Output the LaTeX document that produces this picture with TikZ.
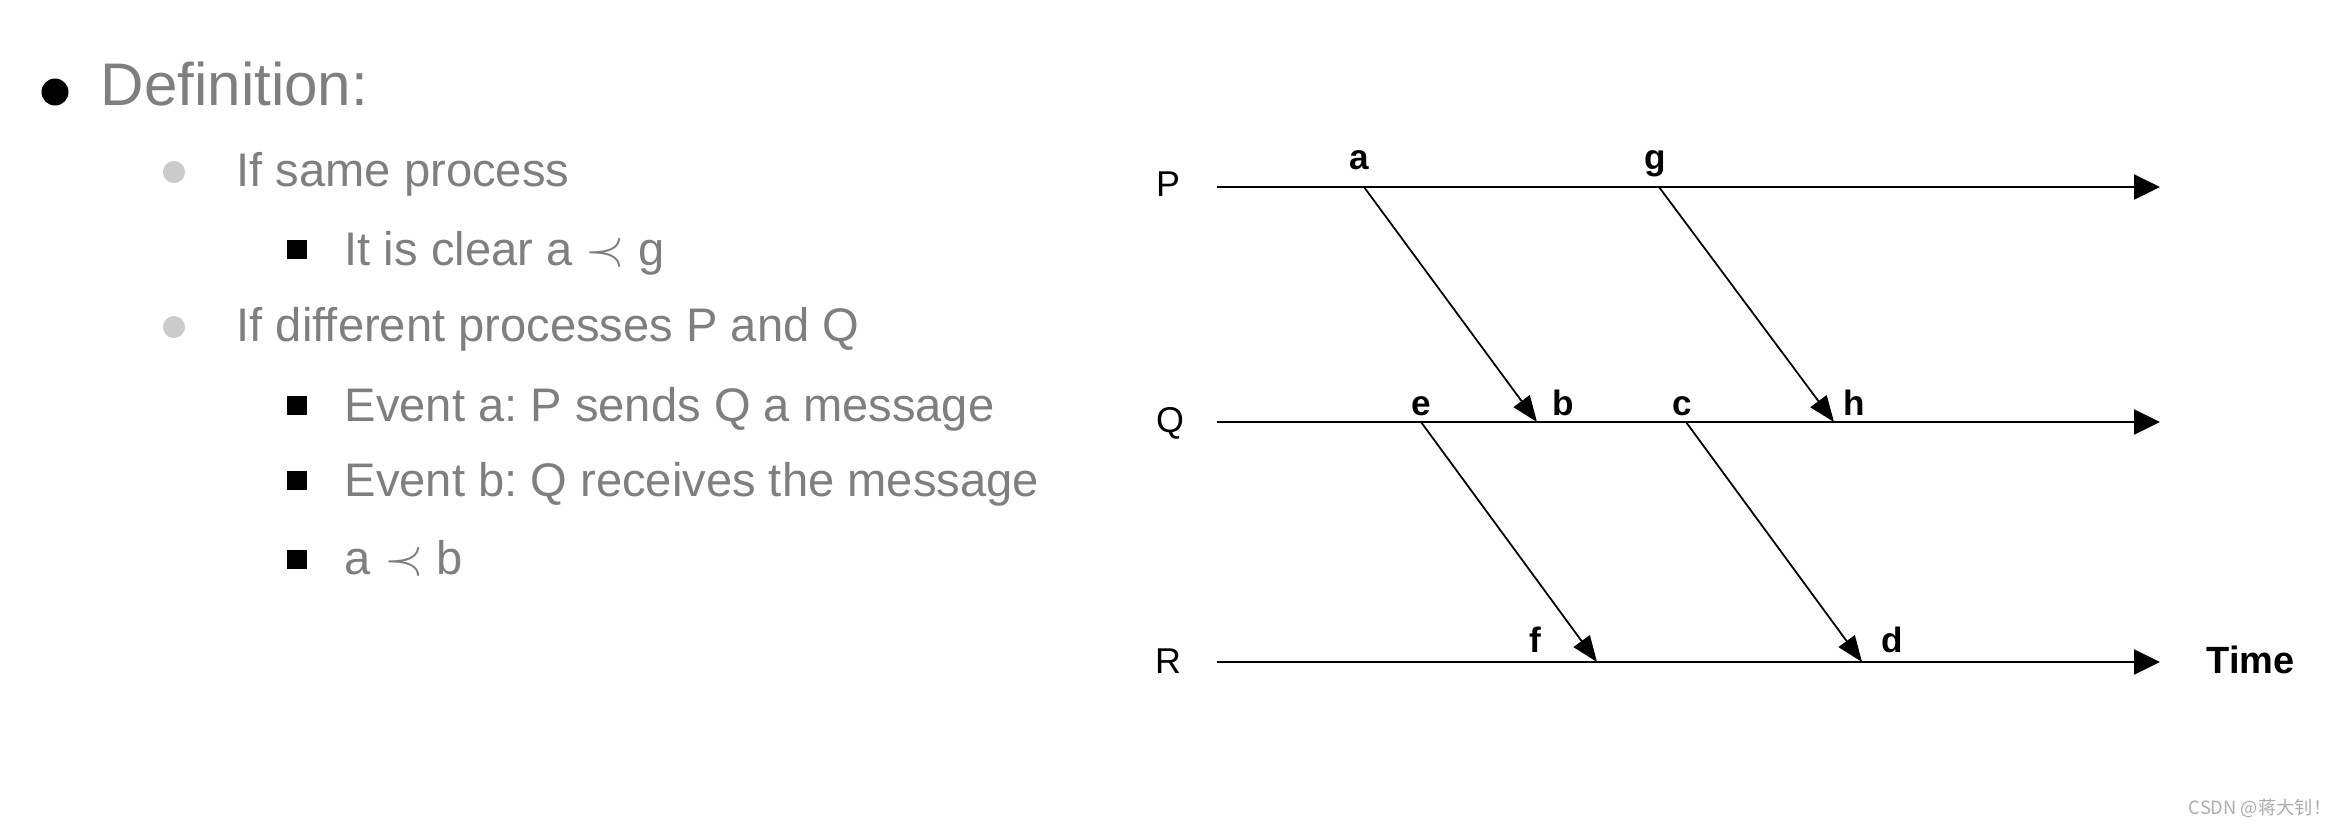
\documentclass[tikz,border=0pt]{standalone}
\usepackage{fontspec}
\setmainfont{Liberation Sans}
\newfontfamily\cjkfont{Noto Sans CJK SC}
\usetikzlibrary{arrows.meta}
\frenchspacing
\definecolor{textgray}{HTML}{7F7F7F}
\definecolor{dotgray}{HTML}{CBCBCB}
\definecolor{markgray}{HTML}{ADADAD}
\tikzset{
  lvlone/.style={anchor=base west, text=textgray, inner sep=0pt, font=\fontsize{17.1}{20}\selectfont},
  lvltwo/.style={anchor=base west, text=textgray, inner sep=0pt, font=\fontsize{13.4}{16}\selectfont},
  graydot/.style={circle, fill=dotgray, minimum size=0.22cm, inner sep=0pt},
  blacksq/.style={rectangle, fill=black, minimum size=0.19cm, inner sep=0pt},
  procline/.style={line width=0.65pt, -{Triangle[length=0.26cm, width=0.25cm]}},
  msgline/.style={line width=0.5pt, -{Triangle[length=0.26cm, width=0.2cm]}},
  proclabel/.style={anchor=base, inner sep=0pt, font=\fontsize{10.2}{12}\selectfont},
  evlabel/.style={anchor=base, inner sep=0pt, font=\bfseries\fontsize{10}{12}\selectfont}
}
\begin{document}
\begin{tikzpicture}[x=0.01cm, y=-0.01cm]
  \useasboundingbox (0,0) rectangle (2332,826);
  \fill[white] (0,0) rectangle (2332,826);
  % Bullet list
  \node[circle, fill=black, minimum size=0.27cm, inner sep=0pt] (dot0) at (55,92) {};
  \node[lvlone] (defn) at (100,105) {Definition:};
  \node[graydot] (dot1) at (174,172) {};
  \node[lvltwo] (same) at (236,186) {If same process};
  \node[blacksq] (sq1) at (297,249) {};
  \node[lvltwo] (clear) at (344,265) {It is clear a $\prec$ g};
  \node[graydot] (dot2) at (174,327) {};
  \node[lvltwo] (diff) at (236,341) {If different processes P and Q};
  \node[blacksq] (sq2) at (297,405) {};
  \node[lvltwo] (send) at (344,421) {Event a: P sends Q a message};
  \node[blacksq] (sq3) at (297,480) {};
  \node[lvltwo] (recv) at (344,496) {Event b: Q receives the message};
  \node[blacksq] (sq4) at (297,559) {};
  \node[lvltwo] (prec) at (344,574) {a $\prec$ b};
  % Processes
  \node[proclabel] (P) at (1168,196) {P};
  \node[proclabel] (Q) at (1170,432) {Q};
  \node[proclabel] (R) at (1168,673) {R};
  \coordinate (Ps) at (1217,187); \coordinate (Pe) at (2160,187);
  \coordinate (Qs) at (1217,422); \coordinate (Qe) at (2160,422);
  \coordinate (Rs) at (1217,662); \coordinate (Re) at (2160,662);
  \draw[procline] (Ps) -- (Pe);
  \draw[procline] (Qs) -- (Qe);
  \draw[procline] (Rs) -- (Re);
  \node[anchor=base west, inner sep=0pt, font=\bfseries\fontsize{10.8}{13}\selectfont] (time) at (2206,673) {Time};
  % Events
  \coordinate (a) at (1364,187); \coordinate (g) at (1659,187);
  \coordinate (e) at (1421,422); \coordinate (b) at (1537,422);
  \coordinate (c) at (1686,422); \coordinate (h) at (1834,422);
  \coordinate (f) at (1597,662); \coordinate (d) at (1862,662);
  \node[evlabel] (la) at (1359,169) {a};
  \node[evlabel] (lg) at (1655,169) {g};
  \node[evlabel] (le) at (1421,415) {e};
  \node[evlabel] (lb) at (1563,415) {b};
  \node[evlabel] (lc) at (1682,415) {c};
  \node[evlabel] (lh) at (1854,415) {h};
  \node[evlabel] (lf) at (1535,652) {f};
  \node[evlabel] (ld) at (1892,652) {d};
  % Messages
  \draw[msgline] (a) -- (b);
  \draw[msgline] (g) -- (h);
  \draw[msgline] (e) -- (f);
  \draw[msgline] (c) -- (d);
  % Watermark
  \node[anchor=base east, inner sep=0pt, text=markgray, font=\cjkfont\fontsize{5.2}{6}\selectfont] (mark) at (2332,814) {CSDN @蒋大钊！};
\end{tikzpicture}
\end{document}
